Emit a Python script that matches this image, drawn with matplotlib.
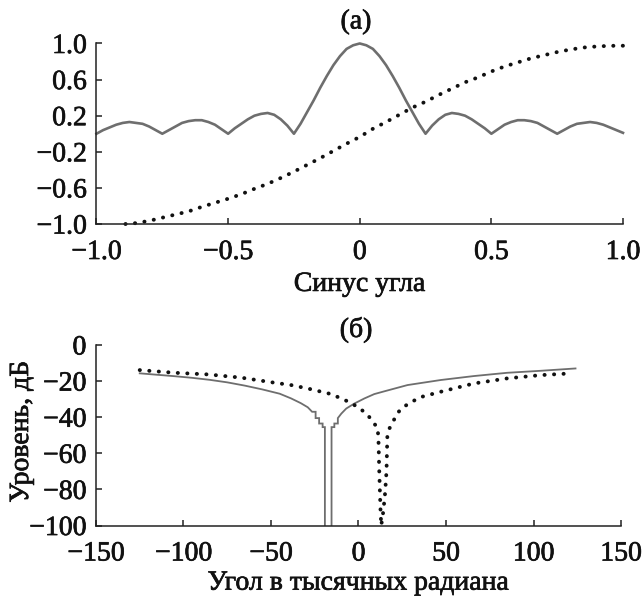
import matplotlib
matplotlib.use("Agg")
import matplotlib.pyplot as plt
import matplotlib.patheffects as pe

# ---------------- data: panel (а) ----------------
sin_u = [-1.0, -0.975, -0.95, -0.925, -0.9, -0.875, -0.85, -0.825, -0.8, -0.775,
         -0.75, -0.725, -0.7, -0.675, -0.65, -0.625, -0.6, -0.575, -0.55, -0.525,
         -0.5, -0.475, -0.45, -0.425, -0.4, -0.375, -0.35, -0.325, -0.3, -0.275,
         -0.25, -0.225, -0.2, -0.175, -0.15, -0.125, -0.1, -0.075, -0.05, -0.025,
         0.0, 0.025, 0.05, 0.075, 0.1, 0.125, 0.15, 0.175, 0.2, 0.225,
         0.25, 0.275, 0.3, 0.325, 0.35, 0.375, 0.4, 0.425, 0.45, 0.475,
         0.5, 0.525, 0.55, 0.575, 0.6, 0.625, 0.65, 0.675, 0.7, 0.725,
         0.75, 0.775, 0.8, 0.825, 0.85, 0.875, 0.9, 0.925, 0.95, 0.975, 1.0]
pattern = [0.00, 0.04, 0.07, 0.10, 0.12, 0.13, 0.12, 0.11, 0.08, 0.04,
           0.00, 0.04, 0.08, 0.12, 0.14, 0.15, 0.15, 0.13, 0.10, 0.05,
           0.00, 0.06, 0.11, 0.16, 0.20, 0.22, 0.23, 0.21, 0.16, 0.09,
           0.00, 0.11, 0.24, 0.37, 0.51, 0.64, 0.76, 0.86, 0.94, 0.98,
           1.00, 0.98, 0.94, 0.86, 0.76, 0.64, 0.51, 0.37, 0.24, 0.11,
           0.00, 0.09, 0.16, 0.21, 0.23, 0.22, 0.20, 0.16, 0.11, 0.06,
           0.00, 0.05, 0.10, 0.13, 0.15, 0.15, 0.14, 0.12, 0.08, 0.04,
           0.00, 0.04, 0.08, 0.11, 0.12, 0.13, 0.12, 0.10, 0.07, 0.04, 0.01]

disc_u = [-0.89, -0.85, -0.80, -0.75, -0.70, -0.65, -0.60, -0.55, -0.50, -0.45,
          -0.40, -0.35, -0.30, -0.25, -0.20, -0.15, -0.10, -0.05, 0.0, 0.05,
          0.10, 0.15, 0.20, 0.25, 0.30, 0.35, 0.40, 0.45, 0.50, 0.55,
          0.60, 0.65, 0.70, 0.75, 0.80, 0.85, 0.90, 0.95, 1.0]
disc_v = [-1.00, -0.99, -0.965, -0.93, -0.895, -0.86, -0.81, -0.765, -0.72, -0.67,
          -0.61, -0.555, -0.49, -0.42, -0.345, -0.27, -0.19, -0.11, -0.035, 0.055,
          0.13, 0.21, 0.29, 0.355, 0.43, 0.50, 0.57, 0.625, 0.69, 0.745,
          0.79, 0.835, 0.87, 0.905, 0.933, 0.955, 0.967, 0.974, 0.975]

# ---------------- data: panel (б) ----------------
ang_solid = [-125, -115, -105, -95, -85, -75, -65, -55, -45,
             -38.5, -33, -29, -26.5, -24.5, -24.5, -22.5, -22.5, -20.5, -20.5,
             -19.2, -19.2, -15.4, -15.4, -13.8, -13.8, -11.8, -11.8,
             -9.8, -7, -2.3, 3.4, 9, 15, 28, 47, 66, 85, 104, 124]
lvl_solid = [-15.7, -16.5, -17.3, -18.2, -19.3, -20.7, -22.5, -24.6, -27.0,
             -29.6, -32.2, -34.5, -37.0, -37.0, -40.5, -40.5, -43.5, -43.5, -45.5,
             -45.5, -130, -130, -45.5, -45.5, -43.5, -43.5, -40.5,
             -38.0, -35.2, -32.4, -29.6, -27.2, -25.6, -22.2, -19.4, -17.2, -15.4, -14.3, -13.0]

ang_dot = [-125, -105, -86, -67, -48, -38.5, -29, -15.6, -6, -2.3,
           1.5, 5.4, 8.2, 11.0, 11.5, 11.8, 12.2, 12.6, 13.0, 14.2,
           15.2, 16.0, 16.3, 16.5, 17.5, 19.3, 21.5, 24.4, 28.2, 35,
           47, 66, 85, 104, 122]
lvl_dot = [-13.9, -15.4, -16.3, -18.1, -20.9, -22.2, -24.1, -27.2, -31.3, -33.3,
           -35.7, -38.9, -42.6, -46.0, -55, -68, -80, -92, -100, -92,
           -82, -70, -58, -50, -46.5, -43.5, -38.9, -35.2, -32.8, -29.0,
           -25.9, -21.3, -18.5, -16.7, -15.7]

# ---------------- ticks & texts ----------------
top_xticks = [-1.0, -0.5, 0, 0.5, 1.0]
top_xlabels = ["−1.0", "−0.5", "0", "0.5", "1.0"]
top_yticks = [1.0, 0.6, 0.2, -0.2, -0.6, -1.0]
top_ylabels = ["1.0", "0.6", "0.2", "−0.2", "−0.6", "−1.0"]
bot_xticks = [-150, -100, -50, 0, 50, 100, 150]
bot_xlabels = ["−150", "−100", "−50", "0", "50", "100", "150"]
bot_yticks = [0, -20, -40, -60, -80, -100]
bot_ylabels = ["0", "−20", "−40", "−60", "−80", "−100"]

title_a = "(а)"
title_b = "(б)"
xlabel_a = "Синус угла"
xlabel_b = "Угол в тысячных радиана"
ylabel_b = "Уровень, дБ"

plt.rcParams['font.family'] = ['Liberation Serif', 'DejaVu Serif']

FS = 20
TXT = '#111111'
heavy = [pe.withStroke(linewidth=0.5, foreground=TXT)]

fig = plt.figure(figsize=(6.42, 5.98), dpi=100)
fig.patch.set_facecolor('white')
ax1 = fig.add_axes([0.1503, 0.6254, 0.8201, 0.3019])
ax2 = fig.add_axes([0.1495, 0.1212, 0.8178, 0.3019])


def style(ax, xt, xl, yt, yl, xlim, ylim):
    ax.set_xlim(xlim)
    ax.set_ylim(ylim)
    for s in ['top', 'right']:
        ax.spines[s].set_visible(False)
    for s in ['left', 'bottom']:
        ax.spines[s].set_linewidth(1.1)
        ax.spines[s].set_color('#222222')
    ax.set_xticks(xt, xl)
    ax.set_yticks(yt, yl)
    ax.tick_params(direction='in', length=4.5, width=1.1, color='#222222',
                   labelsize=FS, labelcolor=TXT)
    ax.tick_params(axis='x', pad=11.5)
    ax.tick_params(axis='y', pad=7)
    for lab in ax.get_xticklabels() + ax.get_yticklabels():
        lab.set_path_effects(heavy)


dot_style = dict(color='#111111', lw=2.8, linestyle=(0, (0.05, 2.4)),
                 dash_capstyle='round', clip_on=False)

# panel (а)
ax1.plot(sin_u, pattern, color='#6e6e6e', lw=1.9, solid_joinstyle='round', clip_on=False)
ax1.plot(disc_u, disc_v, **dot_style)
style(ax1, top_xticks, top_xlabels, top_yticks, top_ylabels, (-1.0, 1.0), (-1.0, 1.0))
ax1.set_xlabel(xlabel_a, fontsize=FS, labelpad=5, color=TXT, path_effects=heavy)

# panel (б)
ax2.plot(ang_solid, lvl_solid, color='#6e6e6e', lw=1.3, solid_joinstyle='miter')
ax2.plot(ang_dot, lvl_dot, **dot_style)
style(ax2, bot_xticks, bot_xlabels, bot_yticks, bot_ylabels, (-150, 150), (-100, 0))
ax2.set_xlabel(xlabel_b, fontsize=FS, labelpad=3, color=TXT, path_effects=heavy)
ax2.set_ylabel(ylabel_b, fontsize=FS, color=TXT, path_effects=heavy)
ax2.yaxis.set_label_coords(-0.118, 0.52)

fig.text(0.5545, 1 - 22 / 598, title_a, ha='center', va='center', fontsize=FS,
         color=TXT, path_effects=heavy)
fig.text(0.5545, 1 - 330 / 598, title_b, ha='center', va='center', fontsize=FS,
         color=TXT, path_effects=heavy)

fig.savefig('out.png', dpi=100, facecolor='white')
